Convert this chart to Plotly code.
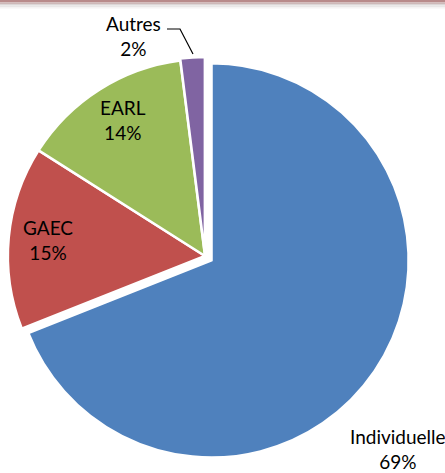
import plotly.graph_objects as go

labels = ["Individuelle", "GAEC", "EARL", "Autres"]
values = [69, 15, 14, 2]
pct_text = ["69%", "15%", "14%", "2%"]
colors = ["#4F81BD", "#C0504D", "#9BBB59", "#8064A2"]
pulls = [0.04, 0, 0, 0.01]

W, H = 445, 473

def px(x):
    return x / W

def py(y):
    return 1 - y / H

cx, cy, half = 205, 256, 205

fig = go.Figure(go.Pie(
    labels=labels,
    values=values,
    sort=False,
    direction="clockwise",
    rotation=0,
    pull=pulls,
    marker=dict(colors=colors, line=dict(color="white", width=2.5)),
    textinfo="none",
    hoverinfo="label+percent",
    domain=dict(x=[px(cx - half), px(cx + half)], y=[py(cy + half), py(cy - half)]),
    showlegend=False,
))

# label positions (px centers)
label_pos = [(398, 449), (48, 240), (123, 120), (133, 36)]
font = dict(family="Lato, Carlito, Calibri, sans-serif", size=19, color="black")
annotations = []
for lab, pt, (x, y) in zip(labels, pct_text, label_pos):
    annotations.append(dict(
        text=f"{lab}<br>{pt}", x=px(x), y=py(y), xref="paper", yref="paper",
        xanchor="center", yanchor="middle", showarrow=False, font=font, align="center",
    ))

shapes = [
    dict(type="path", xref="paper", yref="paper",
         path=f"M {px(167)} {py(29)} L {px(180)} {py(29)} L {px(193)} {py(54)}",
         line=dict(color="black", width=1.2)),
]
# top frame edge
bands = [(0, 2.5, "#b98b8b"), (2.5, 4, "#cdb8b8"), (4, 5.5, "#dcd6d6"), (5.5, 7, "#e9e7e7"), (7, 8.5, "#f5f4f4")]
for y0, y1, c in bands:
    shapes.append(dict(type="rect", xref="paper", yref="paper", x0=0, x1=1,
                       y0=py(y1), y1=py(y0), fillcolor=c, line=dict(width=0), layer="below"))

fig.update_layout(
    width=W, height=H,
    margin=dict(l=0, r=0, t=0, b=0),
    paper_bgcolor="white", plot_bgcolor="white",
    annotations=annotations, shapes=shapes,
)

fig.write_html("out.html", config={"displayModeBar": False},
               post_script="document.body.style.margin='0';document.body.style.overflow='hidden';")
